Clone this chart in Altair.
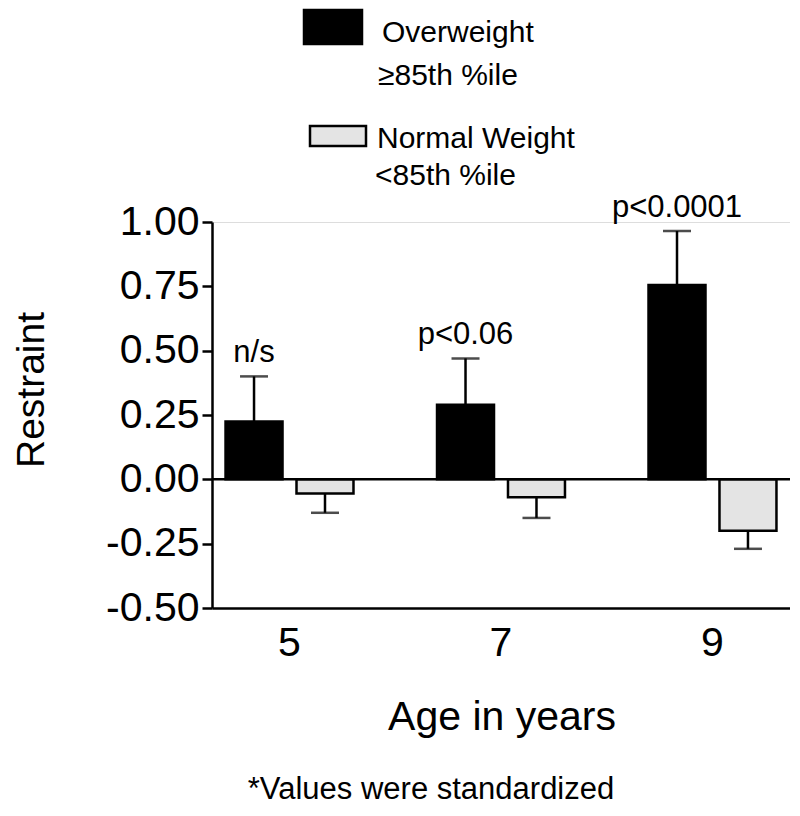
import altair as alt
import pandas as pd

# ---- data ----
ages = ["5", "7", "9"]
groups = ["Overweight", "Normal Weight"]
ow_mean = [0.225, 0.29, 0.755]
ow_err_end = [0.40, 0.47, 0.965]
nw_mean = [-0.055, -0.07, -0.20]
nw_err_end = [-0.13, -0.15, -0.27]
p_labels = ["n/s", "p<0.06", "p<0.0001"]
y_ticks = [-0.5, -0.25, 0.0, 0.25, 0.5, 0.75, 1.0]

rows = []
for i, a in enumerate(ages):
    rows.append({"age": a, "group": groups[0], "mean": ow_mean[i], "err": ow_err_end[i], "p": p_labels[i]})
    rows.append({"age": a, "group": groups[1], "mean": nw_mean[i], "err": nw_err_end[i], "p": ""})
df = pd.DataFrame(rows)
one = pd.DataFrame({"k": [0]})

FONT = "Liberation Sans"

x_enc = alt.X("age:N", sort=ages, title=None,
              scale=alt.Scale(paddingInner=0.395, paddingOuter=0.064),
              axis=alt.Axis(labelAngle=0, labelFontSize=41, labelColor="black",
                            ticks=False, labelPadding=15, domainColor="black",
                            domainWidth=2.5, labelFont=FONT))
xo_enc = alt.XOffset("group:N", sort=groups,
                     scale=alt.Scale(paddingInner=0.197, paddingOuter=0))
y_scale = alt.Scale(domain=[-0.5, 1.0], nice=False, zero=False)
y_enc = alt.Y("mean:Q", scale=y_scale, title=None,
              axis=alt.Axis(values=y_ticks, grid=False, labelFontSize=41,
                            labelColor="black", labelPadding=3, tickSize=10,
                            tickWidth=2.5, tickColor="black", domainColor="black",
                            domainWidth=2.5, labelFont=FONT,
                            labelExpr="datum.value < 0 ? '-' + format(-datum.value, '.2f') : format(datum.value, '.2f')"))

base = alt.Chart(df)

bars = base.mark_bar(stroke="black", strokeWidth=2.5).encode(
    x=x_enc, xOffset=xo_enc, y=y_enc,
    color=alt.Color("group:N", sort=groups, legend=None,
                    scale=alt.Scale(domain=groups, range=["#000000", "#e4e4e4"])),
)

err_rule = base.mark_rule(color="black", strokeWidth=2.5).encode(
    x=alt.X("age:N", sort=ages), xOffset=xo_enc,
    y=alt.Y("mean:Q", scale=y_scale), y2="err:Q",
)

caps = base.mark_tick(color="black", size=28, thickness=2.5).encode(
    x=alt.X("age:N", sort=ages), xOffset=xo_enc,
    y=alt.Y("err:Q", scale=y_scale),
)

ptext = base.transform_filter(alt.datum.group == groups[0]).mark_text(
    baseline="alphabetic", dy=-14, fontSize=31, font=FONT, color="black"
).encode(
    x=alt.X("age:N", sort=ages), xOffset=xo_enc,
    y=alt.Y("err:Q", scale=y_scale), text="p:N",
)

zero_line = alt.Chart(one).mark_rule(color="black", strokeWidth=2.5).encode(
    y=alt.datum(0)
)

def box(x1, x2, y1, y2, fill):
    return alt.Chart(one).mark_rect(fill=fill, stroke="black", strokeWidth=2.5).encode(
        x=alt.value(x1), x2=alt.value(x2), y=alt.value(y1), y2=alt.value(y2))

def label(txt, x, y, size, align="left", angle=0):
    return alt.Chart(one).mark_text(
        align=align, baseline="alphabetic", fontSize=size, font=FONT,
        color="black", angle=angle
    ).encode(x=alt.value(x), y=alt.value(y), text=alt.value(txt))

legend = [
    box(92, 150, -212, -178, "#000000"),
    label("Overweight", 170, -180, 30),
    label("\u226585th %ile", 166, -137, 30),
    box(98, 154, -96, -76, "#e4e4e4"),
    label("Normal Weight", 165, -74, 30),
    label("<85th %ile", 163, -37, 30),
]

y_title = alt.Chart(one).mark_text(
    align="center", baseline="middle", fontSize=39, font=FONT, color="black", angle=270
).encode(x=alt.value(-180), y=alt.value(168), text=alt.value("Restraint"))

x_title = label("Age in years", 290, 508, 41, align="center")
foot = label("*Values were standardized", 219, 577, 31, align="center")

chart = alt.layer(
    bars, err_rule, caps, ptext, zero_line, *legend, y_title, x_title, foot
).properties(
    width=578, height=386,
    autosize=alt.AutoSizeParams(type="none"),
    padding={"left": 204, "top": 214, "right": 0, "bottom": 199},
).configure_view(stroke="transparent").configure(font=FONT)

chart.save("out.html", embed_options={"renderer": "svg", "actions": False})
